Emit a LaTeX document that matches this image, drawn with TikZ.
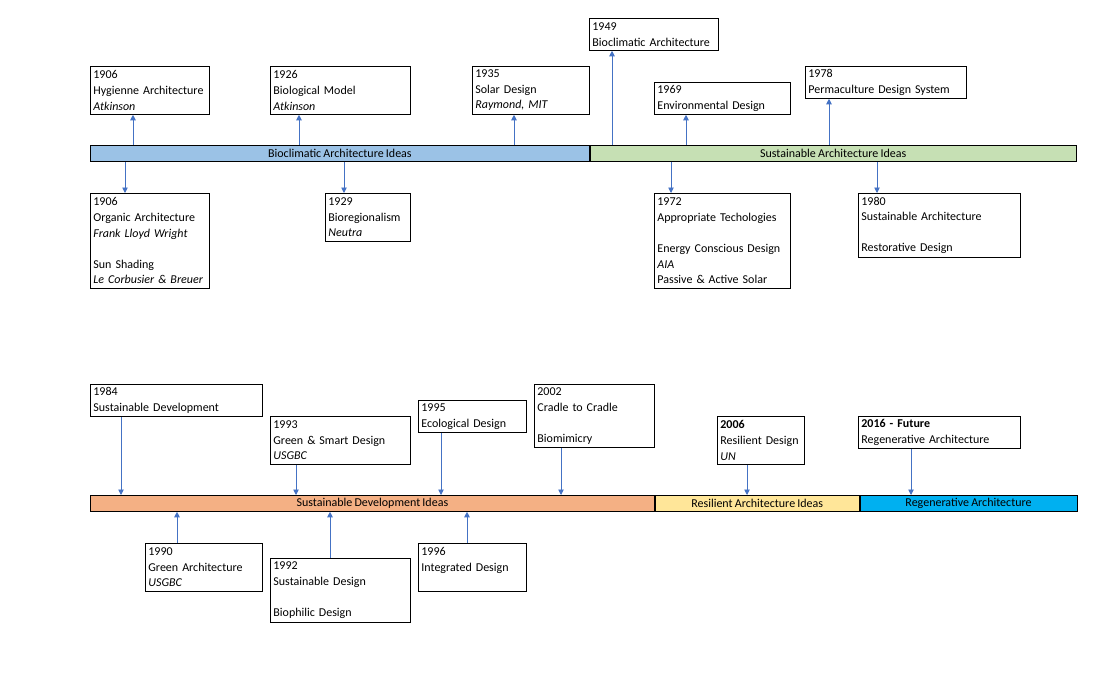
\documentclass[tikz,border=0pt]{standalone}
\usepackage{fontspec}
\setmainfont{Carlito}[WordSpace=0.8]
\usetikzlibrary{arrows.meta}
\definecolor{bioblue}{RGB}{155,194,230}
\definecolor{susgreen}{RGB}{198,224,180}
\definecolor{devorange}{RGB}{244,176,132}
\definecolor{resyellow}{RGB}{255,230,153}
\definecolor{regblue}{RGB}{0,176,240}
\definecolor{linkblue}{RGB}{68,114,196}
\begin{document}
\begin{tikzpicture}[x=1pt,y=-1pt,>={Triangle[length=5.5pt,width=5.5pt]},
	idea/.style={draw=black,line width=0.8pt,anchor=north west,align=left,inner xsep=3pt,inner ysep=0pt,font=\fontsize{12}{15.6}\selectfont},
	bar/.style={draw=black,line width=0.8pt,anchor=north west,minimum height=16pt,inner sep=0pt,font=\fontsize{12}{14}\selectfont},
	link/.style={->,draw=linkblue,line width=0.9pt}]
	\useasboundingbox[fill=white] (0,0) rectangle (1115,685);
	% timelines
	\node[bar,fill=bioblue,minimum width=499] (bioBar) at (90,145) {Bioclimatic Architecture Ideas};
	\node[bar,fill=susgreen,minimum width=486] (susBar) at (bioBar.north east) {Sustainable Architecture Ideas};
	\node[bar,fill=devorange,minimum width=564] (devBar) at (90,495) {Sustainable Development Ideas};
	\node[bar,fill=resyellow,minimum width=204] (resBar) at (devBar.north east) {Resilient Architecture Ideas};
	\node[bar,fill=regblue,minimum width=217] (regBar) at (resBar.north east) {Regenerative Architecture};
	% upper row, above
	\node[idea,text width=113,minimum height=48] (hygiene) at (90,66) {1906\\Hygienne Architecture\\\textit{Atkinson}};
	\node[idea,text width=134,minimum height=48] (biomodel) at (270,66) {1926\\Biological Model\\\textit{Atkinson}};
	\node[idea,text width=111,minimum height=48] (solar) at (472,66) {1935\\Solar Design\\\textit{Raymond, MIT}};
	\node[idea,text width=123,minimum height=32] (bioclim) at (589,18) {1949\\Bioclimatic Architecture};
	\node[idea,text width=130,minimum height=32] (envdesign) at (654,82) {1969\\Environmental Design};
	\node[idea,text width=155,minimum height=32] (permaculture) at (805,66) {1978\\Permaculture Design System};
	% upper row, below
	\node[idea,text width=113,minimum height=95] (organic) at (90,193) {1906\\Organic Architecture\\\textit{Frank Lloyd Wright}\\~\\Sun Shading\\\textit{Le Corbusier \& Breuer}};
	\node[idea,text width=79,minimum height=48] (bioregion) at (325,193) {1929\\Bioregionalism\\\textit{Neutra}};
	\node[idea,text width=130,minimum height=95] (apptech) at (654,193) {1972\\Appropriate Techologies\\~\\Energy Conscious Design\\\textit{AIA}\\Passive \& Active Solar};
	\node[idea,text width=156,minimum height=64] (sustarch) at (858,193) {1980\\Sustainable Architecture\\~\\Restorative Design};
	% lower row, above
	\node[idea,text width=166,minimum height=32] (sustdev) at (90,384) {1984\\Sustainable Development};
	\node[idea,text width=134,minimum height=48] (greensmart) at (270,416) {1993\\Green \& Smart Design\\\textit{USGBC}};
	\node[idea,text width=102,minimum height=32] (ecodesign) at (418,400) {1995\\Ecological Design};
	\node[idea,text width=114,minimum height=63] (cradle) at (534,384) {2002\\Cradle to Cradle\\~\\Biomimicry};
	\node[idea,text width=81,minimum height=48] (resilient) at (717,416) {\textbf{2006}\\Resilient Design\\\textit{UN}};
	\node[idea,text width=156,minimum height=32] (regen) at (858,416) {\textbf{2016 - Future}\\Regenerative Architecture};
	% lower row, below
	\node[idea,text width=111,minimum height=48] (greenarch) at (145,543) {1990\\Green Architecture\\\textit{USGBC}};
	\node[idea,text width=134,minimum height=64] (sustdesign) at (270,558) {1992\\Sustainable Design\\~\\Biophilic Design};
	\node[idea,text width=102,minimum height=48] (integrated) at (418,543) {1996\\Integrated Design\\~};
	% connectors, upper row
	\draw[link] (bioBar.north -| 133,0) -- (hygiene.south -| 133,0);
	\draw[link] (bioBar.north -| 299,0) -- (biomodel.south -| 299,0);
	\draw[link] (bioBar.north -| 514,0) -- (solar.south -| 514,0);
	\draw[link] (susBar.north -| 612,0) -- (bioclim.south -| 612,0);
	\draw[link] (susBar.north -| 686,0) -- (envdesign.south -| 686,0);
	\draw[link] (susBar.north -| 829,0) -- (permaculture.south -| 829,0);
	\draw[link] (bioBar.south -| 125,0) -- (organic.north -| 125,0);
	\draw[link] (bioBar.south -| 344,0) -- (bioregion.north -| 344,0);
	\draw[link] (susBar.south -| 671,0) -- (apptech.north -| 671,0);
	\draw[link] (susBar.south -| 877,0) -- (sustarch.north -| 877,0);
	% connectors, lower row
	\draw[link] (sustdev.south -| 121,0) -- (devBar.north -| 121,0);
	\draw[link] (greensmart.south -| 296,0) -- (devBar.north -| 296,0);
	\draw[link] (ecodesign.south -| 441,0) -- (devBar.north -| 441,0);
	\draw[link] (cradle.south -| 561,0) -- (devBar.north -| 561,0);
	\draw[link] (resilient.south -| 747,0) -- (resBar.north -| 747,0);
	\draw[link] (regen.south -| 911,0) -- (regBar.north -| 911,0);
	\draw[link] (greenarch.north -| 177,0) -- (devBar.south -| 177,0);
	\draw[link] (sustdesign.north -| 330,0) -- (devBar.south -| 330,0);
	\draw[link] (integrated.north -| 467,0) -- (devBar.south -| 467,0);
\end{tikzpicture}
\end{document}
